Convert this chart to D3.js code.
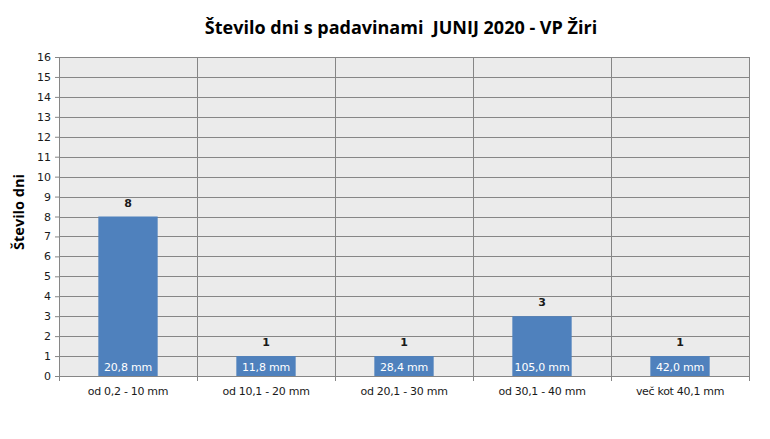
<!DOCTYPE html>
<html>
<head>
<meta charset="utf-8">
<script src="https://cdn.jsdelivr.net/npm/d3@7"></script>
<style>
  body { margin: 0; background: #fff; }
  svg { display: block; }
</style>
</head>
<body>
<script>
const categories = ["od 0,2 - 10 mm", "od 10,1 - 20 mm", "od 20,1 - 30 mm", "od 30,1 - 40 mm", "več kot 40,1 mm"];
const days = [8, 1, 1, 3, 1];
const amounts = ["20,8 mm", "11,8 mm", "28,4 mm", "105,0 mm", "42,0 mm"];
const yTicks = d3.range(0, 17);

const W = 770, H = 439;
const margin = {top: 57, right: 21, bottom: 63, left: 59};
const width = W - margin.left - margin.right;
const height = H - margin.top - margin.bottom;
const labelFont = "'DejaVu Sans', Verdana, sans-serif";

const svg = d3.select("body").append("svg")
    .attr("width", W)
    .attr("height", H)
    .style("font-family", labelFont);

// title
svg.append("text")
    .attr("x", 401).attr("y", 34)
    .attr("text-anchor", "middle")
    .style("white-space", "pre")
    .style("font-family", "'Open Sans', 'Noto Sans', sans-serif")
    .style("font-weight", "bold")
    .style("font-size", "18px")
    .text("Število dni s padavinami  JUNIJ 2020 - VP Žiri");

svg.append("text")
    .attr("transform", "translate(24,212) rotate(-90)")
    .attr("text-anchor", "middle")
    .style("font-family", "'Open Sans', 'Noto Sans', sans-serif")
    .style("font-weight", "bold")
    .style("font-size", "14.5px")
    .text("Število dni");

const g = svg.append("g")
    .attr("transform", "translate(" + margin.left + "," + margin.top + ")");

const x = d3.scaleBand().domain(categories).range([0, width]).paddingInner(0).paddingOuter(0);
const y = d3.scaleLinear().domain([0, 16]).range([height, 0]);

g.append("rect")
    .attr("width", width).attr("height", height)
    .attr("fill", "#ebebeb");

// horizontal gridlines
g.selectAll(".hgrid").data(yTicks.slice(1))
  .enter().append("line")
    .attr("x1", 0).attr("x2", width)
    .attr("y1", d => Math.round(y(d)) + 0.5).attr("y2", d => Math.round(y(d)) + 0.5)
    .attr("stroke", "#868686");

// vertical category separators
g.selectAll(".vgrid").data(categories.slice(1))
  .enter().append("line")
    .attr("x1", d => Math.round(x(d)) + 0.5).attr("x2", d => Math.round(x(d)) + 0.5)
    .attr("y1", 0).attr("y2", height)
    .attr("stroke", "#868686");

g.append("line")
    .attr("x1", width + 0.5).attr("x2", width + 0.5)
    .attr("y1", 0).attr("y2", height)
    .attr("stroke", "#868686");

// bars
const barW = x.bandwidth() * 0.43;
g.selectAll(".bar").data(days)
  .enter().append("rect")
    .attr("class", "bar")
    .attr("x", (d, i) => x(categories[i]) + (x.bandwidth() - barW) / 2)
    .attr("y", d => y(d))
    .attr("width", barW)
    .attr("height", d => height - y(d))
    .attr("fill", "#4f81bd");

// value labels
g.selectAll(".val").data(days)
  .enter().append("text")
    .attr("x", (d, i) => x(categories[i]) + x.bandwidth() / 2)
    .attr("y", d => y(d) - 10)
    .attr("text-anchor", "middle")
    .style("font-size", "11px")
    .style("font-weight", "bold")
    .attr("fill", "#1a1a1a")
    .text(d => d);

// amount labels inside bars
g.selectAll(".amt").data(amounts)
  .enter().append("text")
    .attr("x", (d, i) => x(categories[i]) + x.bandwidth() / 2)
    .attr("y", height - 5)
    .attr("text-anchor", "middle")
    .style("font-size", "11px")
    .attr("fill", "#ffffff")
    .style("letter-spacing", "-0.2px")
    .text(d => d);

// y axis
const yAxis = d3.axisLeft(y).tickValues(yTicks).tickSize(4).tickPadding(4);
const ya = g.append("g").call(yAxis).attr("font-family", null);
ya.select(".domain").attr("stroke", "#868686");
ya.selectAll(".tick line").attr("stroke", "#868686");
ya.selectAll(".tick text").style("font-family", labelFont).style("font-size", "11px").attr("fill", "#1a1a1a");

// x axis
const xAxis = d3.axisBottom(x).tickSize(0).tickPadding(11);
const xa = g.append("g").attr("transform", "translate(0," + height + ")").call(xAxis).attr("font-family", null);
xa.select(".domain").attr("stroke", "#868686");
xa.selectAll(".tick text").style("font-family", labelFont).style("font-size", "11px")
    .attr("fill", "#1a1a1a").style("letter-spacing", "-0.3px");

// x tick marks at category boundaries
g.selectAll(".xtick").data(d3.range(0, categories.length + 1))
  .enter().append("line")
    .attr("x1", i => Math.round(i * x.step()) + 0.5).attr("x2", i => Math.round(i * x.step()) + 0.5)
    .attr("y1", height).attr("y2", height + 5)
    .attr("stroke", "#868686");
</script>
</body>
</html>
